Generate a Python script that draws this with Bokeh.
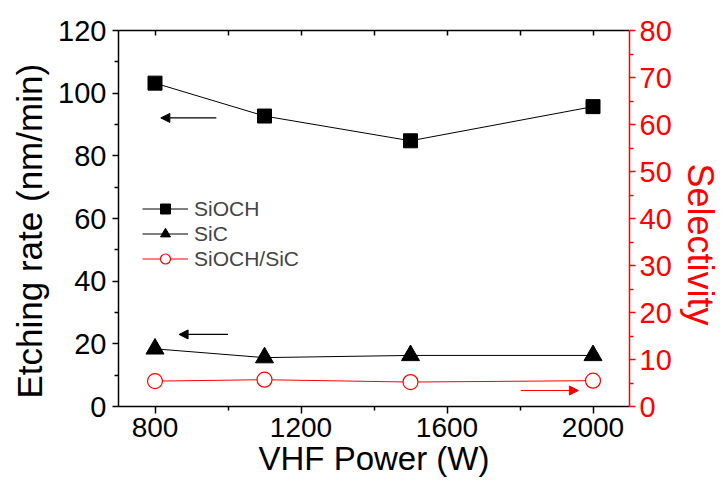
from bokeh.plotting import figure
from bokeh.models import (LinearAxis, Range1d, FixedTicker, Legend, LegendItem,
                          Arrow, NormalHead, Title)
from bokeh.embed import file_html
from bokeh.resources import INLINE

# ---- data ----
power = [800, 1100, 1500, 2000]
rate_sioch = [103.2, 92.7, 84.8, 95.7]
rate_sic = [18.4, 15.6, 16.3, 16.3]
selectivity = [5.4, 5.7, 5.2, 5.5]

x_ticks = [800, 1200, 1600, 2000]
x_minor = [1000, 1400, 1800]
y_ticks = list(range(0, 121, 20))
y_minor = list(range(10, 120, 20))
sel_ticks = list(range(0, 81, 10))
sel_minor = list(range(5, 80, 10))

# arrow annotations: x_start, x_end, y
arrow_sioch = [968, 816, 92.1]
arrow_sic = [1000, 866, 23.0]
arrow_sel = [1802, 1960, 3.4]

FONT = "Liberation Sans"
RED = "#ff0000"

p = figure(width=727, height=486, x_range=Range1d(700, 2100), y_range=Range1d(0, 120),
           output_backend="svg", toolbar_location=None,
           min_border_left=118, min_border_right=96, min_border_top=30, min_border_bottom=80)
p.extra_y_ranges = {"sel": Range1d(0, 80)}
p.outline_line_color = None
p.xgrid.visible = False
p.ygrid.visible = False
p.background_fill_color = "white"
p.border_fill_color = "white"

def style_axis(ax, color="black", size="29px"):
    ax.axis_line_color = color
    ax.axis_line_width = 1.5
    ax.major_tick_line_color = color
    ax.minor_tick_line_color = color
    ax.major_tick_line_width = 1.5
    ax.minor_tick_line_width = 1.5
    ax.major_label_text_color = color
    ax.major_label_text_font = FONT
    ax.major_label_text_font_size = size
    ax.axis_label_text_color = color
    ax.axis_label_text_font = FONT
    ax.axis_label_text_font_size = "33px"
    ax.axis_label_text_font_style = "normal"

xa = p.xaxis[0]
style_axis(xa, size="28px")
xa.ticker = FixedTicker(ticks=x_ticks, minor_ticks=x_minor)
xa.axis_label = "VHF Power (W)"
xa.major_tick_out = 7
xa.major_tick_in = 0
xa.minor_tick_out = 4
xa.minor_tick_in = 0
xa.major_label_standoff = 4
xa.axis_label_standoff = 0

ya = p.yaxis[0]
style_axis(ya)
ya.ticker = FixedTicker(ticks=y_ticks, minor_ticks=y_minor)
ya.major_tick_out = 6
ya.major_tick_in = 0
ya.minor_tick_out = 4
ya.minor_tick_in = 0
ya.major_label_standoff = 6

top = LinearAxis(ticker=FixedTicker(ticks=x_ticks, minor_ticks=x_minor))
style_axis(top)
top.major_label_text_font_size = "0px"
top.major_label_text_alpha = 0
top.major_tick_in = 5
top.major_tick_out = 0
top.minor_tick_in = 5
top.minor_tick_out = 0
p.add_layout(top, "above")

ra = LinearAxis(y_range_name="sel", ticker=FixedTicker(ticks=sel_ticks, minor_ticks=sel_minor))
style_axis(ra, RED)
ra.major_tick_out = 6
ra.major_tick_in = 0
ra.minor_tick_out = 4
ra.minor_tick_in = 0
ra.major_label_standoff = 4
p.add_layout(ra, "right")

# axis titles (offset along the axis as in the original)
p.add_layout(Title(text="Etching rate (nm/min)", align="left", offset=8, standoff=10,
                   vertical_align="top",
                   text_font=FONT, text_font_size="35px", text_font_style="normal",
                   text_color="black"), "left")
p.add_layout(Title(text="Selectivity", align="left", offset=133, standoff=10,
                   text_font=FONT, text_font_size="36px", text_font_style="normal",
                   text_color=RED), "right")

# ---- series ----
l1 = p.line(power, rate_sioch, line_color="black", line_width=1)
s1 = p.scatter(power, rate_sioch, marker="square", size=14, fill_color="black", line_color="black")
l2 = p.line(power, rate_sic, line_color="black", line_width=1)
s2 = p.scatter(power, rate_sic, marker="triangle", size=18, fill_color="black", line_color="black")
l3 = p.line(power, selectivity, line_color=RED, line_width=1, y_range_name="sel")
s3 = p.scatter(power, selectivity, marker="circle", size=15, fill_color="white", line_color=RED,
               line_width=1.2, y_range_name="sel")

# ---- arrows ----
for (xs, xe, yy), col, rng in [(arrow_sioch, "black", "default"),
                               (arrow_sic, "black", "default"),
                               (arrow_sel, RED, "sel")]:
    p.add_layout(Arrow(x_start=xs, y_start=yy, x_end=xe, y_end=yy, line_color=col, line_width=1.2,
                       end=NormalHead(size=9, fill_color=col, line_color=col),
                       y_range_name=rng))

legend = Legend(items=[LegendItem(label="SiOCH", renderers=[l1, s1]),
                       LegendItem(label="SiC", renderers=[l2, s2]),
                       LegendItem(label="SiOCH/SiC", renderers=[l3, s3])],
                location=(24, 135), glyph_width=46, glyph_height=25, label_height=25,
                spacing=0, padding=0, margin=0, label_standoff=6,
                label_text_font=FONT, label_text_font_size="21px",
                border_line_alpha=0, background_fill_alpha=0)
p.add_layout(legend, "center")

open("out.html", "w").write(file_html(p, INLINE))
